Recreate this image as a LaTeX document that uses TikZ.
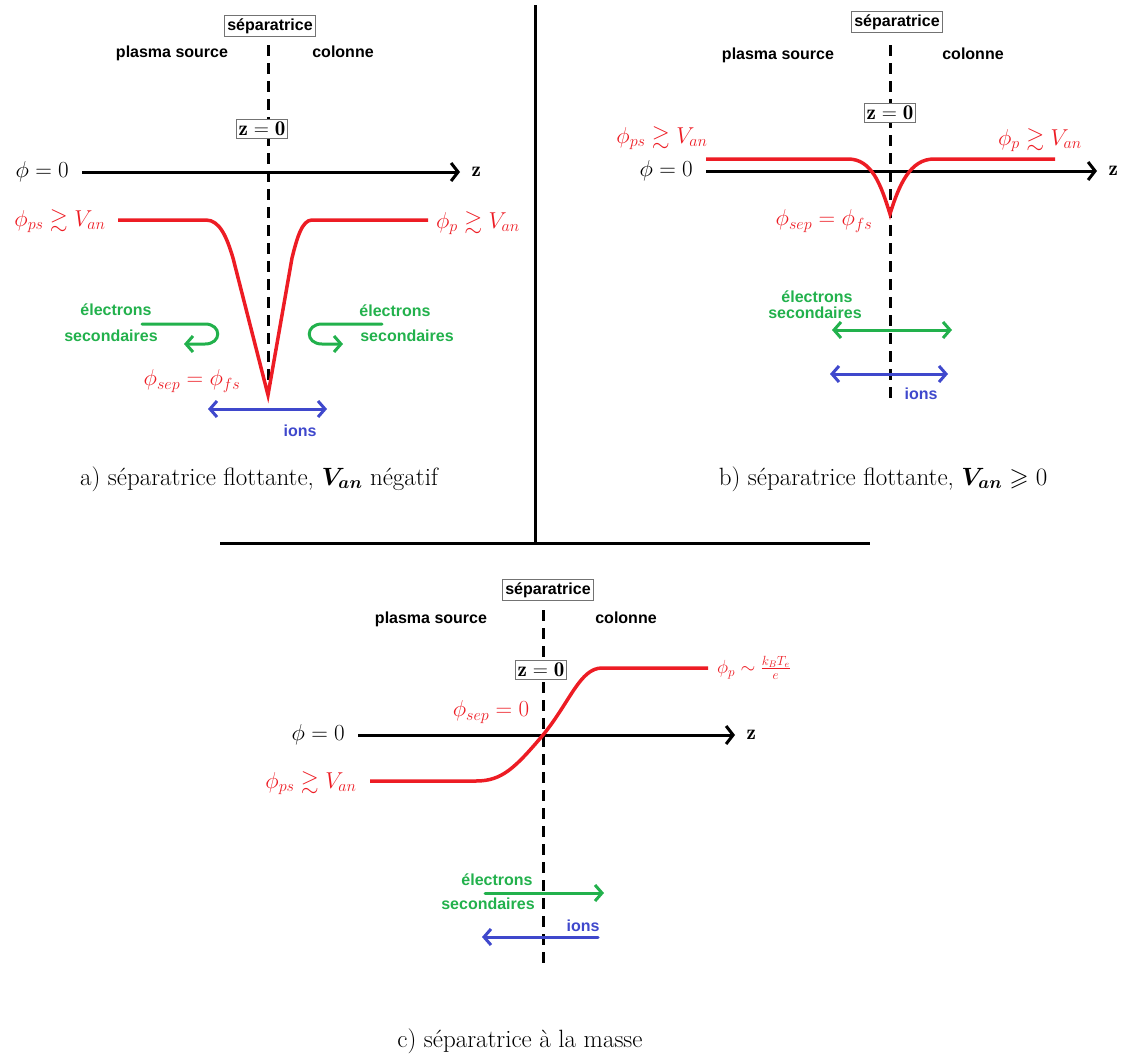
\RequirePackage{fix-cm}
\documentclass[tikz,border=0pt]{standalone}
\usepackage{amsmath,amssymb}
\usepackage{fontspec}
\setsansfont{Liberation Sans}
\usetikzlibrary{positioning,arrows.meta}
\definecolor{rouge}{HTML}{ED1C24}
\definecolor{vert}{HTML}{22B14C}
\definecolor{bleu}{HTML}{3F48CC}

\begin{document}
\begin{tikzpicture}[x=1pt, y=-1pt,
  txt/.style={font=\fontsize{16}{18}\selectfont\sffamily\bfseries, inner sep=1pt},
  boite/.style={draw=black!55, line width=0.8pt, fill=white, inner sep=2.5pt},
  maths/.style={font=\fontsize{23}{27}\selectfont, inner sep=1pt},
  zbold/.style={font=\fontsize{21}{24}\selectfont},
  legende/.style={font=\fontsize{25}{30}\selectfont},
  axe/.style={line width=3pt, -{Straight Barb[length=7pt,width=18pt]}},
  sepline/.style={line width=3pt, dash pattern=on 11pt off 7pt},
  courbe/.style={draw=rouge, line width=3.5pt},
  fleche/.style={line width=3pt, line cap=round, -{Straight Barb[length=7pt,width=16pt]}},
  dfleche/.style={line width=3pt, {Straight Barb[length=7pt,width=16pt]}-{Straight Barb[length=7pt,width=16pt]}}]
  \useasboundingbox (0,0) rectangle (1129,1055);

  \draw[line width=3pt] (535,5) -- (535,543);
  \draw[line width=3pt] (220,543) -- (870,543);

  \coordinate (sepA) at (268,45);
  \coordinate (pointeA) at (268,395);
  \coordinate (axeA0) at (82,172);
  \coordinate (axeA1) at (460,172);
  \draw[sepline] (sepA) -- (pointeA);
  \draw[axe] (axeA0) -- (axeA1);
  \draw[courbe] (118,220) -- (206,220) .. controls (220,220) and (227,238) .. (233,258) -- (pointeA) -- (292,258) .. controls (297,238) and (302,220) .. (312,220) -- (428,220);
  \draw[fleche, vert] (142,324) -- (205,324) .. controls (222,324) and (222,344) .. (205,344) -- (184,344);
  \draw[fleche, vert] (382,324) -- (322,324) .. controls (305,324) and (305,344) .. (322,344) -- (343,344);
  \draw[dfleche, bleu] (208,409) -- (327,409);
  \node[boite, txt, inner sep=3pt] (sepAbox) at (270,26) {séparatrice};
  \node[txt] (sourceA) at (172,53) {plasma source};
  \node[txt] (colA) at (343,52) {colonne};
  \node[boite, zbold] (zA) at (262,129) {$\mathbf{z=0}$};
  \node[maths, left=12pt of axeA0] (phiA) {$\phi=0$};
  \node[zbold, right=8pt of axeA1] (zaxA) {$\mathbf{z}$};
  \node[maths, text=rouge] (psA) at (60,221) {$\phi_{ps}\gtrsim V_{an}$};
  \node[maths, text=rouge] (pA) at (478,223) {$\phi_{p}\gtrsim V_{an}$};
  \node[maths, text=rouge] (fsA) at (192,381) {$\phi_{sep}=\phi_{fs}$};
  \node[txt, text=vert] (eA1) at (116,310) {électrons};
  \node[txt, text=vert] (eA2) at (111,336) {secondaires};
  \node[txt, text=vert] (eA3) at (395,311) {électrons};
  \node[txt, text=vert] (eA4) at (407,336) {secondaires};
  \node[txt, text=bleu] (ionsA) at (300,431) {ions};
  \node[legende] (legA) at (259,479) {a) séparatrice flottante, $\boldsymbol{V_{an}}$ négatif};

  \coordinate (sepB) at (890,45);
  \coordinate (basB) at (890,405);
  \coordinate (axeB0) at (706,171);
  \coordinate (axeB1) at (1097,171);
  \draw[sepline] (sepB) -- (basB);
  \draw[axe] (axeB0) -- (axeB1);
  \draw[courbe] (706,159) -- (848,159) .. controls (872,159) and (881,185) .. (890,214) .. controls (899,185) and (910,159) .. (934,159) -- (1055,159);
  \draw[dfleche, vert] (832,330) -- (952,330);
  \draw[dfleche, bleu] (830,374) -- (948,374);
  \node[boite, txt, inner sep=3pt] (sepBbox) at (897,22) {séparatrice};
  \node[txt] (sourceB) at (778,55) {plasma source};
  \node[txt] (colB) at (973,54) {colonne};
  \node[boite, zbold] (zB) at (890,113) {$\mathbf{z=0}$};
  \node[maths, left=12pt of axeB0] (phiB) {$\phi=0$};
  \node[zbold, right=8pt of axeB1] (zaxB) {$\mathbf{z}$};
  \node[maths, text=rouge] (psB) at (662,138) {$\phi_{ps}\gtrsim V_{an}$};
  \node[maths, text=rouge] (pB) at (1040,140) {$\phi_{p}\gtrsim V_{an}$};
  \node[maths, text=rouge] (fsB) at (824,221) {$\phi_{sep}=\phi_{fs}$};
  \node[txt, text=vert] (eB1) at (817,297) {électrons};
  \node[txt, text=vert] (eB2) at (815,313) {secondaires};
  \node[txt, text=bleu] (ionsB) at (921,394) {ions};
  \node[legende] (legB) at (883,479) {b) séparatrice flottante, $\boldsymbol{V_{an}}\geqslant 0$};

  \coordinate (sepC) at (543,610);
  \coordinate (basC) at (543,968);
  \coordinate (axeC0) at (358,735);
  \coordinate (axeC1) at (735,735);
  \draw[sepline] (sepC) -- (basC);
  \draw[axe] (axeC0) -- (axeC1);
  \draw[courbe] (370,781) -- (476,781) .. controls (502,781) and (515,768) .. (543,735) .. controls (570,702) and (580,668) .. (602,668) -- (708,668);
  \draw[fleche, vert] (485,893) -- (604,893);
  \draw[fleche, bleu] (598,937) -- (482,937);
  \node[boite, txt, inner sep=3pt] (sepCbox) at (548,590) {séparatrice};
  \node[txt] (sourceC) at (431,619) {plasma source};
  \node[txt] (colC) at (626,618) {colonne};
  \node[boite, zbold] (zC) at (541,670) {$\mathbf{z=0}$};
  \node[maths, left=12pt of axeC0] (phiC) {$\phi=0$};
  \node[zbold, right=8pt of axeC1] (zaxC) {$\mathbf{z}$};
  \node[maths, text=rouge] (psC) at (311,783) {$\phi_{ps}\gtrsim V_{an}$};
  \node[maths, text=rouge, font=\fontsize{19}{22}\selectfont, anchor=west] (pC) at (716,668) {$\phi_{p}\sim\frac{k_BT_e}{e}$};
  \node[maths, text=rouge] (sepvalC) at (491,712) {$\phi_{sep}=0$};
  \node[txt, text=vert] (eC1) at (497,880) {électrons};
  \node[txt, text=vert] (eC2) at (488,904) {secondaires};
  \node[txt, text=bleu] (ionsC) at (583,926) {ions};
  \node[legende] (legC) at (520,1041) {c) séparatrice à la masse};
\end{tikzpicture}
\end{document}
